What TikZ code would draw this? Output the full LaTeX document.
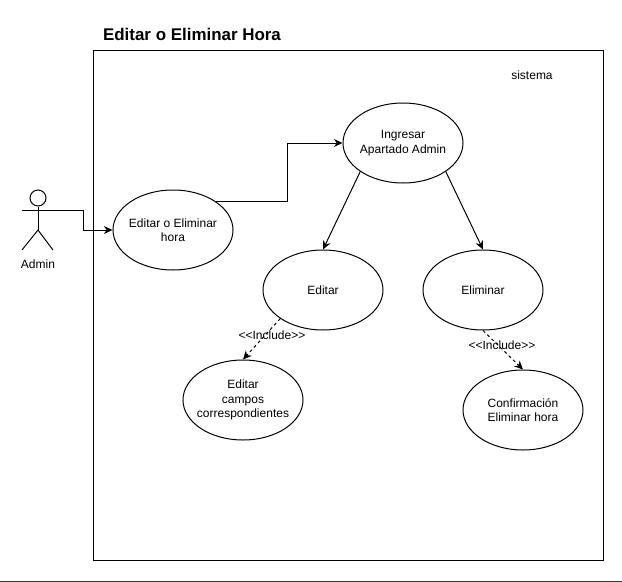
\documentclass[tikz,border=0pt]{standalone}
\usepackage{fontspec}
\setmainfont{Liberation Sans}
\usetikzlibrary{arrows.meta, shapes.geometric}
\tikzset{
  usecase/.style={ellipse, draw, minimum width=90pt, minimum height=60pt, inner xsep=-20pt, inner ysep=-14pt, align=center, font=\fontsize{9}{10.7}\selectfont},
  tag/.style={inner sep=0pt, align=center, font=\fontsize{9}{12}\selectfont},
  include/.style={->, dash pattern=on 2.25pt off 2.25pt, line width=0.75pt}
}
\begin{document}
\begin{tikzpicture}[>={Stealth[length=6.5pt,width=6pt]}, x=0.75pt, y=-0.75pt, line width=0.75pt]
  \useasboundingbox (0,0) rectangle (622,582);
  % System box and title
  \node[draw, minimum width=382.5pt, minimum height=382.5pt, inner sep=0pt] (sistemabox) at (348,305) {};
  \node[tag, font=\bfseries\fontsize{12.7}{14}\selectfont] (titulo) at (192,34) {Editar o Eliminar Hora};
  \node[tag] (sistema) at (532,75) {sistema};
  % Actor
  \node[circle, draw, minimum size=12pt, inner sep=0pt] (cabeza) at (38,198) {};
  \coordinate (cadera) at (38,230);
  \coordinate (brazoizq) at (22,210);
  \coordinate (brazoder) at (53,210);
  \coordinate (pieizq) at (22,250);
  \coordinate (pieder) at (53,250);
  \draw (cabeza) -- (cadera);
  \draw (brazoizq) -- (brazoder);
  \draw (pieizq) -- (cadera) -- (pieder);
  \node[tag] (admin) at (38,264) {Admin};
  % Use cases
  \node[usecase] (ingresar) at (403,143) {Ingresar\\Apartado Admin};
  \node[usecase] (editarhora) at (173,230) {Editar o Eliminar\\hora};
  \node[usecase] (editar) at (323,290) {Editar};
  \node[usecase] (eliminar) at (483,290) {Eliminar};
  \node[usecase] (campos) at (243,400) {Editar\\campos\\correspondientes};
  \node[usecase] (confirmacion) at (523,410) {Confirmación\\Eliminar hora};
  % Solid connectors
  \draw[->] (brazoder) -- ++(30,0) |- (editarhora.west);
  \draw[->] (editarhora.north east) -- ++(72,0) |- (ingresar.west);
  \draw[->] (ingresar.south west) -- (editar.north);
  \draw[->] (ingresar.south east) -- (eliminar.north);
  % Include connectors
  \draw[include] (editar.south west) -- (campos.north);
  \draw[include] (eliminar.south) -- (confirmacion.north);
  \node[tag] (incluye1) at (272,335) {<{}<Include>{}>};
  \node[tag] (incluye2) at (502,345) {<{}<Include>{}>};
  % Bottom rule
  \coordinate (reglaizq) at (0,581);
  \coordinate (reglader) at (622,581);
  \draw[black!80] (reglaizq) -- (reglader);
\end{tikzpicture}
\end{document}
